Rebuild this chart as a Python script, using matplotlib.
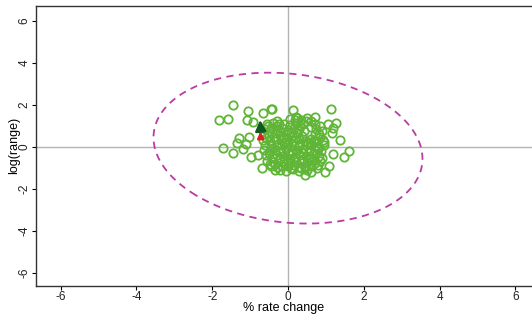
import numpy as np
import matplotlib.pyplot as plt

plt.rcParams['font.family'] = ['Liberation Sans', 'DejaVu Sans']
plt.rcParams['axes.unicode_minus'] = False

# scattered points (% rate change, log(range))
x_out = [-1.44, -1.82, -1.58, -1.06, -0.65, -0.46, -1.09, -0.92, -1.28, -1.02,
         -1.35, -1.11, -1.71, -1.44, -1.20, -0.98, -0.78, -0.69, -0.43, 0.14,
         1.13, 0.71, 0.23, 1.06, 1.28, 1.15, 1.37, 0.95, 1.62, 1.48,
         1.20, 1.09, 0.98, 0.60, 0.45, 0.76, -0.34, 1.20, 0.62]
y_out = [2.00, 1.29, 1.33, 1.71, 1.60, 1.81, 1.29, 1.20, 0.41, 0.49,
         0.18, 0.13, -0.03, -0.27, -0.11, -0.46, -0.38, -0.99, 1.81, 1.76,
         1.81, 1.44, 1.40, 1.08, 1.13, 0.65, 0.33, 0.22, -0.19, -0.46,
         -0.35, -0.89, -1.21, -1.21, -1.33, -0.98, -1.10, 0.90, 0.95]

# dense central cloud
x_core = [0.05, 0.20, 0.35, 0.50, 0.62,
          -0.55, -0.40, -0.25, -0.10, 0.05, 0.20, 0.40, 0.70, 0.85,
          -0.60, -0.45, -0.30, -0.15, 0.00, 0.15, 0.30, 0.42, 0.75, 0.90,
          -0.62, -0.50, -0.35, -0.20, -0.05, 0.10, 0.25, 0.38, 0.70, 0.85,
          -0.65, -0.48, -0.32, -0.18, -0.02, 0.12, 0.28, 0.45, 0.60, 0.75, 0.92,
          -0.60, -0.45, -0.30, -0.15, 0.00, 0.15, 0.30, 0.48, 0.62, 0.80, 0.95,
          -0.62, -0.48, -0.33, -0.20, -0.05, 0.10, 0.25, 0.40, 0.55, 0.70, 0.88,
          -0.58, -0.42, -0.28, -0.12, 0.02, 0.18, 0.32, 0.48, 0.65, 0.82,
          -0.55, -0.40, -0.25, -0.10, 0.05, 0.20, 0.35, 0.50, 0.68, 0.85,
          -0.45, -0.30, -0.15, 0.00, 0.15, 0.30, 0.45, 0.62, 0.78,
          -0.20, -0.05, 0.12, 0.28, 0.50,
          -0.52, -0.22, 0.08, 0.32, 0.58, -0.38, -0.08, 0.22, 0.52, 0.80,
          -0.50, -0.20, 0.10, 0.40, 0.72, -0.35, 0.05, 0.35, 0.60, -0.10,
          -0.28, 0.18, 0.48, 0.82, -0.58, -0.12, 0.28, 0.68, -0.40, 0.00,
          0.40, 0.78, -0.22, 0.15, 0.55, -0.48, 0.08, 0.45, 0.90, -0.30]
y_core = [1.35, 1.42, 1.30, 1.38, 1.25,
          1.10, 1.15, 1.08, 1.12, 1.05, 1.15, 1.10, 1.12, 1.00,
          0.85, 0.90, 0.82, 0.92, 0.80, 0.90, 0.85, 0.78, 0.85, 0.75,
          0.60, 0.55, 0.65, 0.58, 0.62, 0.55, 0.65, 0.55, 0.60, 0.50,
          0.35, 0.30, 0.38, 0.32, 0.40, 0.30, 0.38, 0.30, 0.40, 0.30, 0.35,
          0.10, 0.05, 0.12, 0.08, 0.15, 0.05, 0.10, 0.08, 0.12, 0.05, 0.10,
          -0.15, -0.20, -0.12, -0.18, -0.10, -0.20, -0.15, -0.10, -0.20, -0.12, -0.18,
          -0.40, -0.45, -0.38, -0.42, -0.35, -0.45, -0.38, -0.42, -0.35, -0.42,
          -0.65, -0.70, -0.62, -0.68, -0.60, -0.70, -0.65, -0.70, -0.62, -0.68,
          -0.90, -0.95, -0.88, -0.92, -0.85, -0.95, -0.88, -0.92, -0.85,
          -1.10, -1.15, -1.05, -1.12, -1.08,
          0.98, 0.72, 0.70, 0.98, 0.22, 0.48, 0.25, 0.48, 0.20, -0.02,
          -0.28, -0.55, -0.30, -0.55, -0.78, -0.80, -0.78, -1.00, -0.50, 0.20,
          1.25, 1.28, 1.22, 0.62, 0.45, 0.45, 0.05, 0.28, -0.05, -0.25,
          -0.28, -0.08, -0.52, -0.58, -0.50, -0.82, -1.00, -1.02, -0.50, 1.00]

# confidence ellipse
ell_center = [0.0, -0.05]
ell_cov = [[12.6, -1.8], [-1.8, 12.9]]

# arrows (start, end)
arrow_red = [(-0.72, 0.38), (-0.73, 0.88)]
arrow_green = [(-0.72, 0.80), (-0.74, 1.42)]

x_ticks = [-6, -4, -2, 0, 2, 4, 6]
y_ticks = [-6, -4, -2, 0, 2, 4, 6]

fig = plt.figure(figsize=(5.32, 3.22), dpi=100)
ax = fig.add_axes([0.0677, 0.1127, 0.9323, 0.8696])

ax.axhline(0, color='#b4b4b4', lw=1.0, zorder=1)
ax.axvline(0, color='#b4b4b4', lw=1.0, zorder=1)

# ellipse from covariance
vals, vecs = np.linalg.eigh(np.array(ell_cov))
t = np.linspace(0, 2 * np.pi, 300)
circ = np.vstack([np.cos(t), np.sin(t)])
pts = vecs @ (np.sqrt(vals)[:, None] * circ)
ax.plot(pts[0] + ell_center[0], pts[1] + ell_center[1], ls=(0, (4, 3)),
        color='#bb3aa4', lw=1.3, zorder=2)

ax.plot(x_core + x_out, y_core + y_out, 'o', ms=6, mfc='none', mec='#5fb536',
        mew=1.3, zorder=3)

ax.annotate('', xy=arrow_red[1], xytext=arrow_red[0],
            arrowprops=dict(arrowstyle='-|>', color='#e02020', lw=1.8,
                            mutation_scale=9), zorder=5)
ax.annotate('', xy=arrow_green[1], xytext=arrow_green[0],
            arrowprops=dict(arrowstyle='-|>', color='#0f5a1e', lw=1.8,
                            mutation_scale=16), zorder=6)

ax.set_xlim(-6.65, 6.44)
ax.set_ylim(-6.6, 6.73)
ax.set_xticks(x_ticks)
ax.set_yticks(y_ticks)
ax.tick_params(labelsize=8.5, length=3, width=0.8, pad=1, labelcolor='#222222')
for lab in ax.get_yticklabels():
    lab.set_rotation(90)
    lab.set_va('center')
ax.spines['right'].set_visible(False)
for s in ['left', 'bottom', 'top']:
    ax.spines[s].set_linewidth(1.0)
    ax.spines[s].set_color('#333333')

ax.set_xlabel('% rate change', fontsize=9, labelpad=-1)
ax.set_ylabel('log(range)', fontsize=9, labelpad=-1)

fig.savefig('out.png', dpi=100)
